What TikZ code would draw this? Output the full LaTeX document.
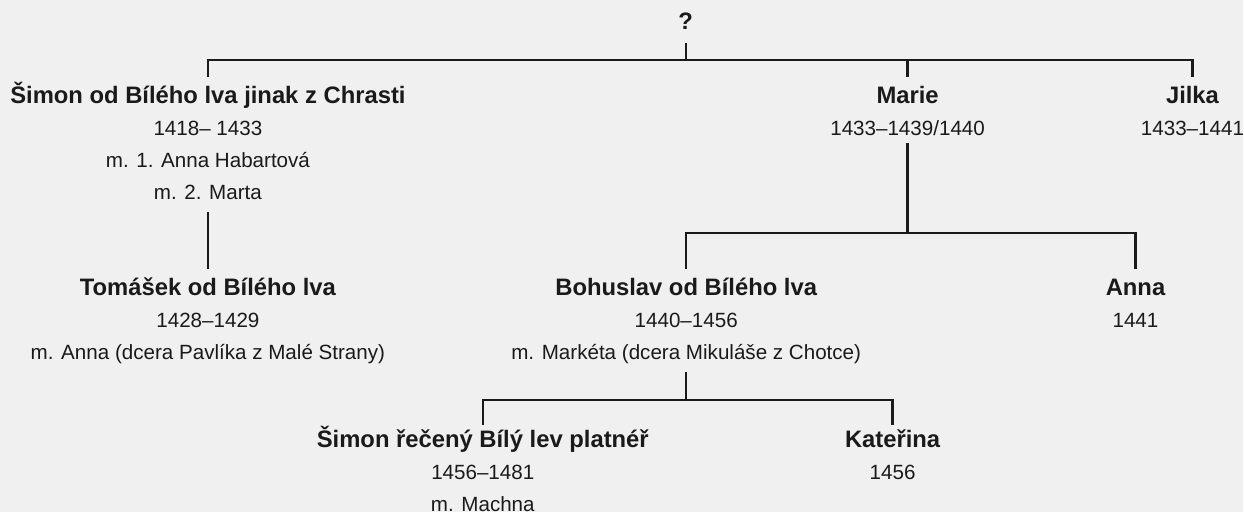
\documentclass[tikz,border=0pt]{standalone}
\usepackage{fontspec}
\setmainfont{Liberation Sans}
\definecolor{paper}{HTML}{F0F0F0}
\definecolor{ink}{HTML}{1A1A1A}
\tikzset{
  who/.style={font=\fontsize{23.8}{28}\selectfont\bfseries, text=ink, text height=17pt, text depth=8pt, inner xsep=0pt, inner ysep=10pt},
  info/.style={font=\fontsize{20.6}{24}\selectfont, text=ink, text height=14pt, text depth=5pt, inner xsep=0pt, inner ysep=7pt},
  tie/.style={draw=ink, line width=2.3pt}
}
\begin{document}
\begin{tikzpicture}[x=1pt, y=-1pt, node distance=32pt]
\fill[paper] (0,0) rectangle (1244,512);
\node  (q)[who] at (686,25.5) {?};
\node  (simon)[who] at (208,99.5) {Šimon od Bílého lva jinak z Chrasti};
\node  (simon1)[info] [below of = simon] {1418– 1433};
\node  (simon2)[info] [below of = simon1] {m. 1. Anna Habartová};
\node  (simon3)[info] [below of = simon2] {m. 2. Marta};
\node  (marie)[who] at (908,99.5) {Marie};
\node  (marie1)[info] [below of = marie] {1433–1439/1440};
\node  (jilka)[who] at (1193,99.5) {Jilka};
\node  (jilka1)[info] [below of = jilka] {1433–1441};
\node  (tomasek)[who] at (208,291.5) {Tomášek od Bílého lva};
\node  (tomasek1)[info] [below of = tomasek] {1428–1429};
\node  (tomasek2)[info] [below of = tomasek1] {m. Anna (dcera Pavlíka z Malé Strany)};
\node  (bohuslav)[who] at (686.5,291.5) {Bohuslav od Bílého lva};
\node  (bohuslav1)[info] [below of = bohuslav] {1440–1456};
\node  (bohuslav2)[info] [below of = bohuslav1] {m. Markéta (dcera Mikuláše z Chotce)};
\node  (anna)[who] at (1136,291.5) {Anna};
\node  (anna1)[info] [below of = anna] {1441};
\node  (platner)[who] at (483,443.5) {Šimon řečený Bílý lev platnéř};
\node  (platner1)[info] [below of = platner] {1456–1481};
\node  (platner2)[info] [below of = platner1] {m. Machna};
\node  (katerina)[who] at (893,443.5) {Kateřina};
\node  (katerina1)[info] [below of = katerina] {1456};
\coordinate (top) at (686,60);
\coordinate (mid) at (908,233);
\coordinate (low) at (686.5,400);
\draw[tie, shorten <=-5pt] (q) -- (q |- top);
\draw[tie] (simon) -- (simon |- top) -- (jilka |- top) -- (jilka);
\draw[tie] (marie |- top) -- (marie);
\draw[tie] (simon3) -- (tomasek);
\draw[tie, shorten <=-5pt] (marie1) -- (marie1 |- mid);
\draw[tie] (bohuslav) -- (bohuslav |- mid) -- (anna |- mid) -- (anna);
\draw[tie] (bohuslav2) -- (bohuslav2 |- low);
\draw[tie, shorten <=-4pt, shorten >=-4pt] (platner) -- (platner |- low) -- (katerina |- low) -- (katerina);
\end{tikzpicture}
\end{document}
